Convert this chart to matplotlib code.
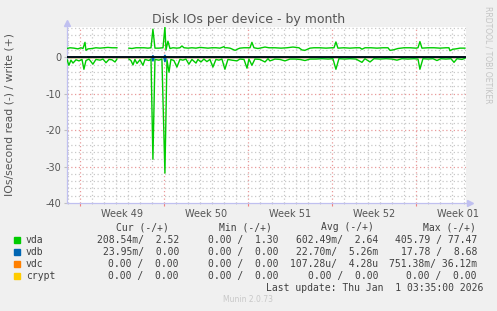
import numpy as np
import matplotlib
matplotlib.use('Agg')
import matplotlib.pyplot as plt
from matplotlib.transforms import blended_transform_factory

plt.rcParams['axes.unicode_minus'] = False

# time in days since Mon 1 Dec 2025 00:00
vda_w_t = [-1.08, -0.83, -0.5, -0.17, 0.08, 0.25, 0.42, 0.5, 0.67, 1.0, 1.33, 1.67, 2.0, 2.33, 2.67, 3.08, 3.5,
           4.08, 4.33, 4.67, 5.0, 5.33, 5.67, 5.92, 6.08, 6.25, 6.58, 6.92, 7.08, 7.17, 7.33, 7.5, 7.75,
           8.08, 8.33, 8.5, 8.67, 9.0, 9.33, 9.67, 10.0, 10.33, 10.67, 11.0, 11.33, 11.67, 12.0, 12.08, 12.25,
           12.5, 12.92, 13.0, 13.17, 13.33, 13.67, 14.0, 14.17, 14.33, 14.5, 14.83, 15.0, 15.42, 15.75,
           16.25, 16.75, 17.25, 17.75, 18.25, 18.5, 18.75, 19.17, 19.5, 20.0, 20.5, 21.0, 21.17, 21.33, 21.5,
           22.0, 22.5, 23.0, 23.33, 23.5, 23.75, 24.25, 24.75, 25.25, 25.67, 25.83, 26.08, 26.5, 27.0,
           27.5, 28.0, 28.17, 28.33, 28.5, 29.0, 29.5, 30.0, 30.5, 30.75, 30.83, 31.08, 31.33, 31.67, 32.08]
vda_w = [2.4, 2.6, 2.5, 2.3, 2.6, 2.4, 4.1, 1.9, 2.3, 2.4, 2.6, 2.5, 2.6, 2.7, 2.6, 2.6, np.nan,
         2.5, 2.4, 2.6, 2.6, 2.6, 2.5, 2.6, 7.7, 2.5, 2.5, 2.6, 8.3, 2.0, 4.4, 2.4, 2.6,
         2.5, 2.6, 3.1, 2.6, 2.5, 2.6, 2.5, 2.7, 2.6, 2.5, 2.6, 2.6, 2.5, 2.9, 2.6, 2.6,
         2.5, 1.9, 2.0, 2.3, 2.5, 2.6, 2.6, 2.6, 4.1, 2.6, 2.4, 2.5, 2.8, 2.6,
         2.6, 2.5, 2.6, 2.8, 2.6, 2.0, 1.9, 2.5, 2.6, 2.6, 2.5, 2.6, 2.6, 4.2, 2.5,
         2.6, 2.5, 2.6, 2.6, 2.2, 2.6, 2.6, 2.5, 2.6, 2.6, 1.9, 2.0, 2.4, 2.6,
         2.6, 2.5, 2.6, 4.3, 2.5, 2.6, 2.6, 2.5, 2.6, 2.6, 1.8, 2.2, 2.3, 2.5, 2.5]

vda_r_t = [-1.08, -0.92, -0.75, -0.58, -0.33, -0.08, 0.17, 0.33, 0.5, 0.75, 1.08, 1.33, 1.67, 1.92, 2.17,
           2.42, 2.67, 2.92, 3.08, 3.5,
           4.08, 4.25, 4.42, 4.58, 4.75, 5.0, 5.25, 5.42, 5.75, 5.92, 6.08, 6.25, 6.58, 6.83, 7.08, 7.25,
           7.42, 7.58, 7.83, 8.08, 8.33, 8.58, 8.83, 9.08, 9.33, 9.67, 9.83, 10.08, 10.33, 10.58, 10.83,
           11.08, 11.33, 11.58, 11.83, 12.08, 12.33, 12.67, 13.08, 13.33, 13.67, 13.92, 14.08, 14.33, 14.58,
           15.0, 15.42, 15.67, 15.83, 16.25, 16.67, 17.08, 17.5, 17.92, 18.33, 18.75, 19.17, 19.67, 20.17,
           20.67, 21.08, 21.33, 21.58, 22.08, 22.5, 23.0, 23.5, 23.75, 24.17, 24.5, 25.0, 25.5, 26.0, 26.42,
           26.83, 27.33, 27.83, 28.17, 28.33, 28.58, 29.0, 29.42, 29.75, 30.08, 30.5, 30.92, 31.17, 31.42,
           31.83, 32.08]
vda_r = [-0.6, -2.2, -0.8, -1.6, -0.7, -1.0, -0.6, -3.3, -0.9, -0.5, -1.9, -0.6, -0.8, -0.5, -1.5,
         -0.6, -0.7, -1.3, -0.5, np.nan,
         -0.5, -0.9, -2.1, -0.6, -1.7, -0.7, -2.2, -0.6, -0.9, -0.5, -28.0, -0.6, -0.8, -0.5, -31.8, -0.7,
         -4.1, -0.6, -0.9, -2.7, -0.6, -0.8, -0.5, -1.9, -0.6, -1.6, -0.6, -1.3, -0.5, -1.2, -0.6,
         -2.7, -0.6, -0.8, -0.5, -3.3, -0.6, -0.8, -1.0, -0.5, -0.6, -3.0, -0.5, -2.2, -0.5,
         -0.6, -1.3, -0.4, -1.0, -0.5, -0.6, -1.0, -0.5, -0.5, -0.6, -0.9, -0.5, -0.5, -0.4,
         -0.5, -0.4, -3.3, -0.4, -0.5, -0.4, -0.5, -1.4, -0.4, -1.3, -0.4, -0.5, -0.4, -0.5, -0.8,
         -0.4, -0.5, -0.4, -0.5, -3.3, -0.4, -0.5, -0.4, -0.9, -0.4, -0.5, -0.4, -1.4, -0.4,
         -0.6, -0.3]

vdb_t = [-1.08, 6.0, 6.08, 6.17, 7.0, 7.08, 7.17, 32.08]
vdb_r = [0.0, 0.0, -1.0, 0.0, 0.0, -1.2, 0.0, 0.0]
vdb_w = [0.0, 0.0, 0.4, 0.0, 0.0, 0.5, 0.0, 0.0]

weeks = ['Week 49', 'Week 50', 'Week 51', 'Week 52', 'Week 01']
week_starts = [0, 7, 14, 21, 28]

names = ['vda', 'vdb', 'vdc', 'crypt']
colors = ['#00CC00', '#0066B3', '#FF8000', '#FFCC00']
cur = ['208.54m/  2.52', '23.95m/  0.00', '0.00 /  0.00', '0.00 /  0.00']
mins = ['0.00 /  1.30', '0.00 /  0.00', '0.00 /  0.00', '0.00 /  0.00']
avgs = ['602.49m/  2.64', '22.70m/  5.26m', '107.28u/  4.28u', '0.00 /  0.00']
maxs = ['405.79 / 77.47', '17.78 /  8.68', '751.38m/ 36.12m', '0.00 /  0.00']

W, H = 497, 311
fig = plt.figure(figsize=(W / 100, H / 100), dpi=100, facecolor='#F0F0F0')
ax = fig.add_axes([67 / W, 1 - 203 / H, (466 - 67) / W, (203 - 27) / H])
ax.set_facecolor('white')
ax.set_xlim(-1.08, 32.17)
ax.set_ylim(-40, 8.3)

# grid
for d in range(-1, 33):
    c = '#E89A9A' if d % 7 == 0 else '#C8C8C8'
    ax.axvline(d, color=c, lw=0.9, ls=(0, (1, 2)), zorder=0)
for v in range(-38, 9, 2):
    c = '#E89A9A' if v % 10 == 0 else '#C8C8C8'
    ax.axhline(v, color=c, lw=0.9, ls=(0, (1, 2)), zorder=0)

ax.plot(vdb_t, np.zeros(len(vdb_t)), color=colors[3], lw=1, zorder=2)
ax.plot(vdb_t, np.zeros(len(vdb_t)), color=colors[2], lw=1, zorder=2)
ax.plot(vda_r_t, vda_r, color=colors[0], lw=1, zorder=3)
ax.plot(vda_w_t, vda_w, color=colors[0], lw=1, zorder=3)
ax.plot(vdb_t, vdb_r, color=colors[1], lw=1.2, zorder=4)
ax.plot(vdb_t, vdb_w, color=colors[1], lw=1.2, zorder=4)
ax.axhline(0, color='black', lw=1.2, zorder=5)

for s in ['top', 'right']:
    ax.spines[s].set_visible(False)
for s in ['left', 'bottom']:
    ax.spines[s].set_color('#C0C0F0')
    ax.spines[s].set_linewidth(0.9)
ax.plot(0, 1.02, marker='^', color='#C0C0F0', ms=4, transform=ax.transAxes, clip_on=False)
ax.plot(1.01, 0, marker='>', color='#C0C0F0', ms=4, transform=ax.transAxes, clip_on=False)

ax.set_xticks(week_starts)
ax.set_xticklabels([])
ax.set_xticks(range(-1, 33), minor=True)
ax.tick_params(axis='x', which='major', length=2, color='#F08080')
ax.tick_params(axis='x', which='minor', length=1, color='#C0C0C0')
ax.set_yticks([-40, -30, -20, -10, 0])
ax.set_yticklabels(['-40', '-30', '-20', '-10', '0'])
ax.tick_params(axis='y', which='major', length=2, color='#C0C0C0', labelsize=7, labelcolor='#555555', pad=2)
trans = blended_transform_factory(ax.transData, ax.transAxes)
for ws, wl in zip(week_starts, weeks):
    ax.text(ws + 3.5, -0.035, wl, transform=trans, ha='center', va='top', fontsize=7, color='#555555',
            clip_on=False)

fig.text(249 / W, 1 - 19 / H, 'Disk IOs per device - by month', ha='center', va='center', fontsize=9,
         color='#555555')
fig.text(10 / W, 1 - 114 / H, 'IOs/second read (-) / write (+)', rotation=90, ha='center', va='center',
         fontsize=7.8, color='#555555')
fig.text(488 / W, 1 - 6 / H, 'RRDTOOL / TOBI OETIKER', rotation=270, ha='center', va='top', fontsize=5.5,
         color='#C4C4C4')

mono = 'DejaVu Sans Mono'
tc = '#404040'
fs = 7
hy = 227.5
for x, h in zip([169, 272, 374, 476], ['Cur (-/+)', 'Min (-/+)', 'Avg (-/+)', 'Max (-/+)']):
    fig.text(x / W, 1 - hy / H, h, ha='right', va='center', family=mono, fontsize=fs, color=tc)
for i, n in enumerate(names):
    y = 1 - (239.7 + 12 * i) / H
    fig.patches.append(plt.Rectangle((14 / W, y - 3 / H), 6 / W, 6 / H, transform=fig.transFigure,
                                     color=colors[i]))
    fig.text(26 / W, y, n, ha='left', va='center', family=mono, fontsize=fs, color=tc)
    for x, col in zip([179, 279, 378, 477], [cur, mins, avgs, maxs]):
        fig.text(x / W, y, col[i], ha='right', va='center', family=mono, fontsize=fs, color=tc)
fig.text(483 / W, 1 - 287.7 / H, 'Last update: Thu Jan  1 03:35:00 2026', ha='right', va='center',
         family=mono, fontsize=fs, color=tc)
fig.text(248 / W, 1 - 299.5 / H, 'Munin 2.0.73', ha='center', va='center', fontsize=5.5, color='#C8C8C8')

fig.savefig('out.png', dpi=100, facecolor=fig.get_facecolor())
